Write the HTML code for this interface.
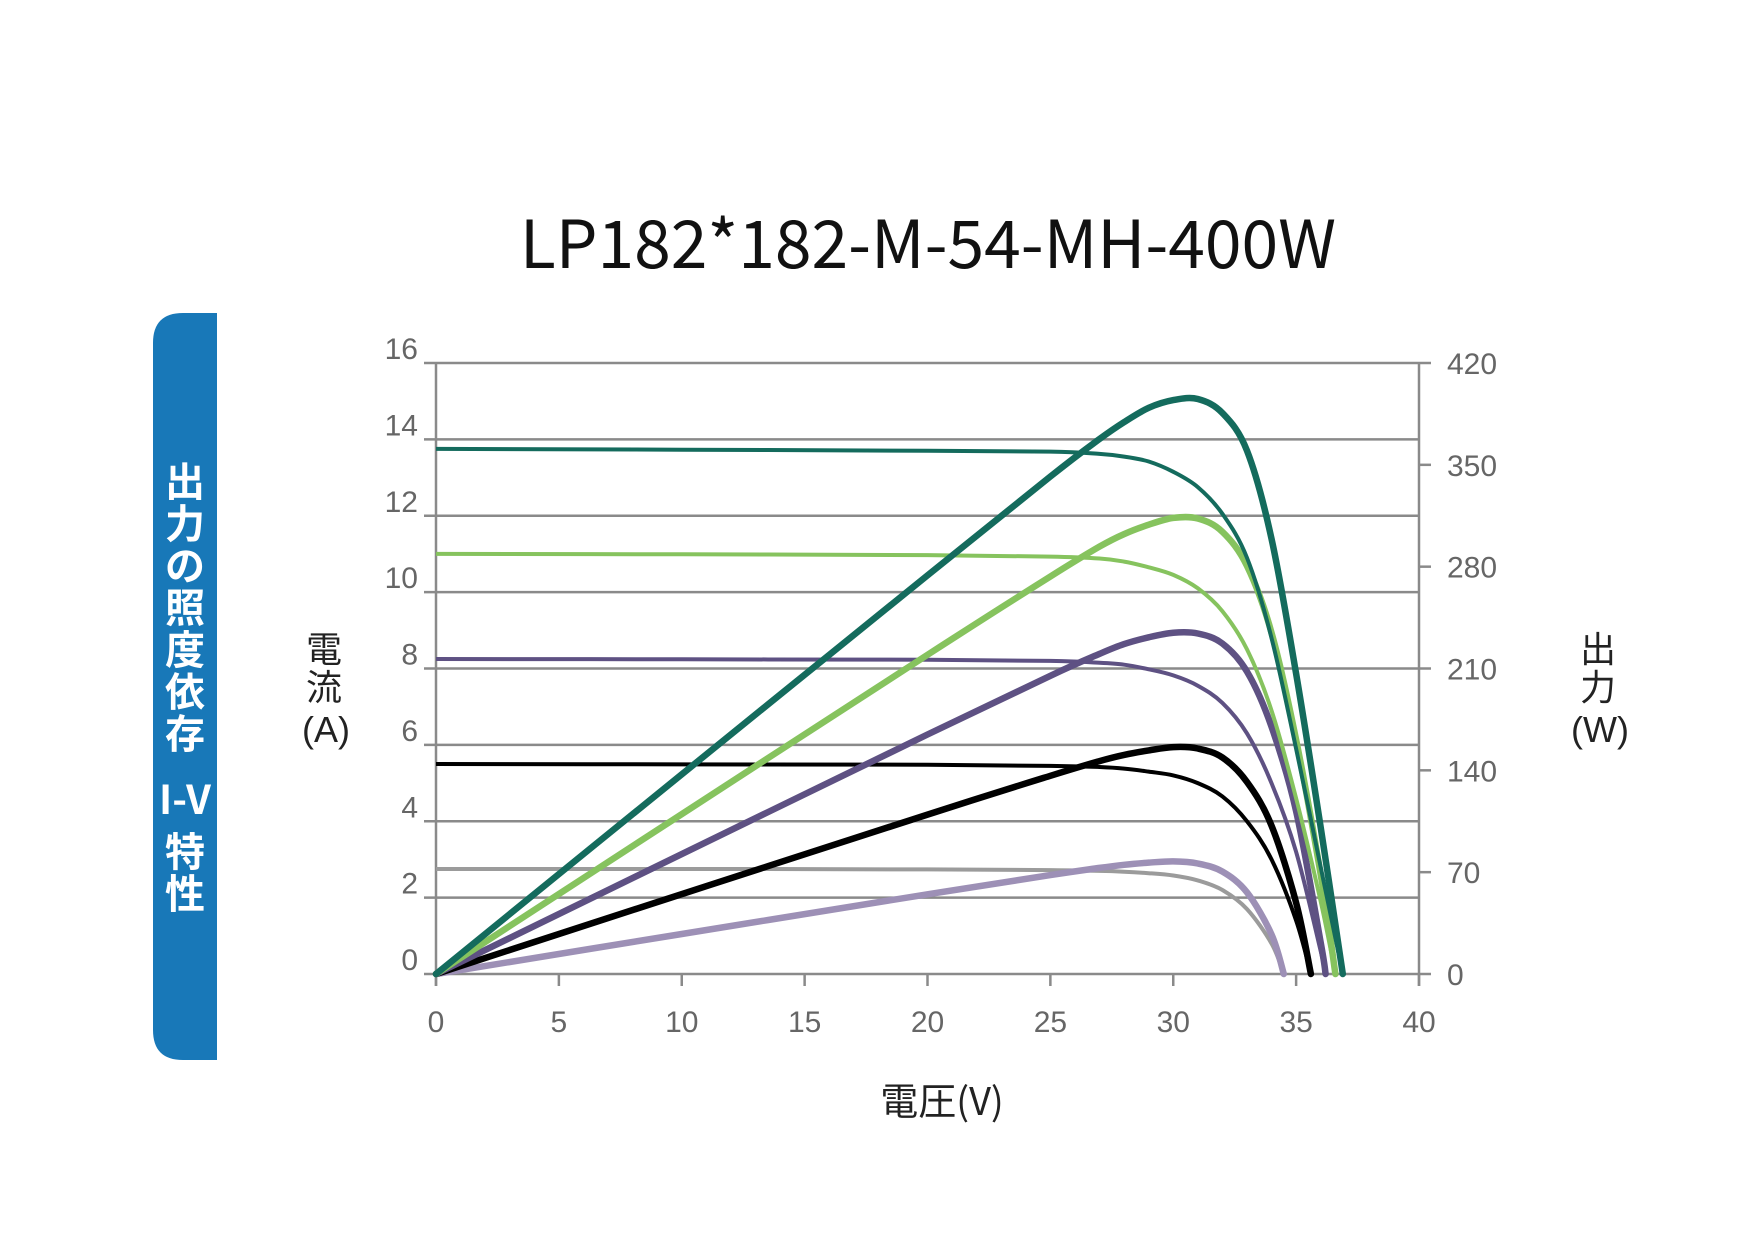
<!DOCTYPE html>
<html><head><meta charset="utf-8"><style>
html,body{margin:0;padding:0;background:#fff;}
svg{display:block;}
</style></head><body>
<svg width="1754" height="1240" viewBox="0 0 1754 1240" xmlns="http://www.w3.org/2000/svg" id="chart">
<text x="928" y="268" text-anchor="middle" font-family="'Noto Sans CJK JP','Liberation Sans',sans-serif" font-size="66" fill="#111">LP182*182-M-54-MH-400W</text>
<path d="M183,313 L217,313 L217,1060 L183,1060 Q153,1060 153,1030 L153,343 Q153,313 183,313 Z" fill="#1878b8"/>
<text font-family="'Noto Sans CJK JP',sans-serif" font-size="40" fill="#fff" text-anchor="middle" font-weight="bold">
<tspan x="185" y="496">出</tspan><tspan x="185" y="538">力</tspan><tspan x="185" y="580">の</tspan><tspan x="185" y="622">照</tspan><tspan x="185" y="664">度</tspan><tspan x="185" y="706">依</tspan><tspan x="185" y="748">存</tspan><tspan x="185" y="814">I-V</tspan><tspan x="185" y="866">特</tspan><tspan x="185" y="908">性</tspan></text>
<text font-family="'Liberation Sans','Noto Sans CJK JP',sans-serif" font-size="36" fill="#222" text-anchor="middle"><tspan x="324" y="662" font-family="'Noto Sans CJK JP',sans-serif">電</tspan><tspan x="324" y="700" font-family="'Noto Sans CJK JP',sans-serif">流</tspan><tspan x="326" y="742">(A)</tspan></text>
<text font-family="'Liberation Sans','Noto Sans CJK JP',sans-serif" font-size="36" fill="#222" text-anchor="middle"><tspan x="1598" y="662" font-family="'Noto Sans CJK JP',sans-serif">出</tspan><tspan x="1598" y="700" font-family="'Noto Sans CJK JP',sans-serif">力</tspan><tspan x="1600" y="742">(W)</tspan></text>
<text x="942" y="1115" text-anchor="middle" font-family="'Noto Sans CJK JP','Liberation Sans',sans-serif" font-size="38" fill="#222">電圧(V)</text>
<g id="grid"></g><g id="series"></g>
</svg>
<script>
const xTicks=[0,5,10,15,20,25,30,35,40];
const yTicks=[0,2,4,6,8,10,12,14,16];
const y2Ticks=[0,70,140,210,280,350,420];
const seriesNames=['irr-1000','irr-800','irr-600','irr-400','irr-200'];
const ivColors=['#146b5d','#86c35e','#5e5183','#000000','#9b9b9b'];
const pvColors=['#146b5d','#86c35e','#5e5183','#000000','#9d90b6'];
const volt1=[0,10,20,25,27,28,29,30,31,32,33,34,35,36,36.9];
const curr1=[13.75,13.73,13.7,13.68,13.62,13.55,13.42,13.15,12.75,12.05,10.9,8.8,5.9,2.8,0];
const volt2=[0,10,20,25,27,28,29,30,31,32,33,34,35,36,36.6];
const curr2=[11.0,10.99,10.97,10.93,10.88,10.8,10.65,10.45,10.1,9.5,8.5,6.9,4.6,1.9,0];
const volt3=[0,10,20,25,27,28,29,30,31,32,33,34,35,36,36.2];
const curr3=[8.25,8.24,8.23,8.2,8.15,8.1,7.98,7.82,7.55,7.1,6.3,5.0,3.2,0.6,0];
const volt4=[0,10,20,25,27,28,29,30,31,32,33,34,35,35.6];
const curr4=[5.5,5.49,5.48,5.45,5.42,5.38,5.3,5.2,5.0,4.65,4.0,3.0,1.4,0];
const volt5=[0,10,20,25,27,28,29,30,31,32,33,34,34.5];
const curr5=[2.75,2.75,2.74,2.72,2.7,2.68,2.64,2.58,2.45,2.2,1.7,0.8,0];
const volts=[volt1,volt2,volt3,volt4,volt5];
const currs=[curr1,curr2,curr3,curr4,curr5];
const L=436,R=1419,T=363,B=974;
const xS=v=>L+(v/40)*(R-L);
const yS=a=>B-(a/16)*(B-T);
const y2S=p=>B-(p/420)*(B-T);
const NS='http://www.w3.org/2000/svg';
function mk(tag,attrs,parent){const e=document.createElementNS(NS,tag);for(const k in attrs)e.setAttribute(k,attrs[k]);parent.appendChild(e);return e;}
const grid=document.getElementById('grid');
yTicks.forEach(t=>{const y=yS(t);
 const g=mk('line',{x1:L-12,x2:R,y1:y,y2:y,stroke:'#8a8a8a','stroke-width':2.5},grid);
 
 
 const tx=mk('text',{x:418,y:y-4,'text-anchor':'end','font-family':'Liberation Sans,sans-serif','font-size':30,fill:'#666'},grid);
 tx.textContent=t;
 
 
});
y2Ticks.forEach(t=>{const y=y2S(t);
 const g=mk('line',{x1:R,x2:R+12,y1:y,y2:y,stroke:'#8a8a8a','stroke-width':2.5},grid);
 
 
 const tx=mk('text',{x:1447,y:y+11,'font-family':'Liberation Sans,sans-serif','font-size':30,fill:'#666'},grid);
 tx.textContent=t;
 
 
});
xTicks.forEach(t=>{const x=xS(t);
 const g=mk('line',{x1:x,x2:x,y1:B,y2:B+12,stroke:'#8a8a8a','stroke-width':2.5},grid);
 
 
 const tx=mk('text',{x:x,y:1032,'text-anchor':'middle','font-family':'Liberation Sans,sans-serif','font-size':30,fill:'#666'},grid);
 tx.textContent=t;
 
 
});
const ax1=mk('line',{x1:L,x2:L,y1:T,y2:B+12,stroke:'#8a8a8a','stroke-width':2.5},grid);


const ax2=mk('line',{x1:R,x2:R,y1:T,y2:B+12,stroke:'#8a8a8a','stroke-width':2.5},grid);


function smooth(pts){let d='M'+pts[0][0].toFixed(1)+','+pts[0][1].toFixed(1);
 for(let i=0;i<pts.length-1;i++){const p0=pts[i-1]||pts[i],p1=pts[i],p2=pts[i+1],p3=pts[i+2]||p2;
  const c1=[p1[0]+(p2[0]-p0[0])/6,p1[1]+(p2[1]-p0[1])/6],c2=[p2[0]-(p3[0]-p1[0])/6,p2[1]-(p3[1]-p1[1])/6];
  d+=' C'+c1[0].toFixed(1)+','+c1[1].toFixed(1)+' '+c2[0].toFixed(1)+','+c2[1].toFixed(1)+' '+p2[0].toFixed(1)+','+p2[1].toFixed(1);}
 return d;}
const sg=document.getElementById('series');
for(let s=volts.length-1;s>=0;s--){
 const V=volts[s],I=currs[s];
 const iv=V.map((v,i)=>[xS(v),yS(I[i])]);
 const pv=V.map((v,i)=>[xS(v),y2S(v*I[i])]);
 const p1=mk('path',{d:smooth(iv),fill:'none',stroke:ivColors[s],'stroke-width':4,'stroke-linejoin':'round'},sg);
 
 
 const p2=mk('path',{d:smooth(pv),fill:'none',stroke:pvColors[s],'stroke-width':6.5,'stroke-linecap':'round','stroke-linejoin':'round'},sg);
 
 
}
</script>
</body></html>
